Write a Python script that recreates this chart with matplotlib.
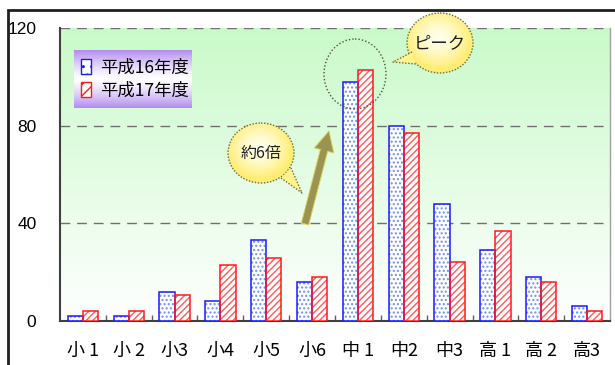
import numpy as np
import matplotlib
matplotlib.use("Agg")
import matplotlib.pyplot as plt
from matplotlib.patches import Ellipse, Polygon, Patch

plt.rcParams['font.family'] = ['Noto Sans CJK JP', 'DejaVu Sans']
plt.rcParams['hatch.linewidth'] = 1.0

grades = ['小 1', '小 2', '小3', '小4', '小5', '小6',
          '中 1', '中2', '中3', '高 1', '高 2', '高3']
h16 = [2, 2, 12, 8, 33, 16, 98, 80, 48, 29, 18, 6]
h17 = [4, 4, 10.5, 23, 26, 18, 103, 77, 24, 37, 16, 4]
series_names = ['平成16年度', '平成17年度']
yticks = [0, 40, 80, 120]

W, H = 615, 365
fig = plt.figure(figsize=(W / 100, H / 100), dpi=100)
ax = fig.add_axes([60 / W, 1 - 321 / H, 550 / W, 293 / H])

# background gradient (white at bottom -> pale green at top)
grad = np.linspace(0, 1, 256).reshape(-1, 1)
c_bot = np.array([1.0, 1.0, 1.0])
c_top = np.array([0.79, 0.98, 0.79])
img = c_bot + (c_top - c_bot) * grad[..., None]
ax.imshow(img, extent=[0, 1, 0, 1], transform=ax.transAxes, origin='lower',
          aspect='auto', zorder=0)

x = np.arange(len(grades))
w = 0.33
# blue dotted bars
ax.bar(x - w / 2, h16, w, color='white', edgecolor='#6f8cff', hatch='....',
       linewidth=0, zorder=3)
ax.bar(x - w / 2, h16, w, fill=False, edgecolor='#1a1aff', linewidth=1.1, zorder=4)
# red hatched bars
ax.bar(x + w / 2, h17, w, color='white', edgecolor='#ff5a5a', hatch='/////',
       linewidth=0, zorder=3)
ax.bar(x + w / 2, h17, w, fill=False, edgecolor='#ff1a1a', linewidth=1.1, zorder=4)

ax.set_xlim(-0.5, len(grades) - 0.5)
ax.set_ylim(0, 120)
ax.set_yticks(yticks)
ax.set_yticklabels([str(v) for v in yticks], fontsize=12.5,
                   family=['Liberation Sans', 'DejaVu Sans'])
ax.set_xticks(x)
ax.set_xticklabels(grades, fontsize=13)
ax.set_xticks(np.arange(len(grades) - 1) + 0.5, minor=True)
ax.tick_params(axis='y', length=0, pad=17)
ax.tick_params(axis='x', which='major', length=0, pad=15)
ax.tick_params(axis='x', which='minor', direction='in', length=4,
               color='#606060', width=1)

for yv in yticks[1:]:
    ax.axhline(yv, color='#707070', lw=1, ls=(0, (7, 5)), zorder=1)

ax.spines['top'].set_visible(False)
ax.spines['right'].set_color('#a0a0a0')
ax.spines['right'].set_linewidth(1)
for s in ['left', 'bottom']:
    ax.spines[s].set_color('#404040')
    ax.spines[s].set_linewidth(1.5)

# legend with purple gradient panel
lx0, lx1 = (74 - 60) / 550, (192 - 60) / 550
ly0, ly1 = (321 - 108) / 293, (321 - 50) / 293
t = np.abs(np.linspace(-1, 1, 256)).reshape(-1, 1) ** 1.3
p_edge = np.array([0.70, 0.55, 0.94])
limg = np.array([1.0, 1.0, 1.0]) + (p_edge - 1.0) * t[..., None]
ax.imshow(limg, extent=[lx0, lx1, ly0, ly1], transform=ax.transAxes,
          aspect='auto', zorder=5)
handles = [Patch(facecolor='white', edgecolor='#1a1aff', hatch='..', lw=1),
           Patch(facecolor='white', edgecolor='#ff1a1a', hatch='///', lw=1)]
leg = ax.legend(handles, series_names, loc='center',
                bbox_to_anchor=((lx0 + lx1) / 2 + 0.003, (ly0 + ly1) / 2),
                frameon=False, fontsize=12.5, handlelength=0.6, handleheight=1.0,
                handletextpad=0.5, labelspacing=0.3, borderpad=0)
leg.set_zorder(6)
ax.set_xlim(-0.5, len(grades) - 0.5)
ax.set_ylim(0, 120)

# overlay in pixel coordinates for callouts
ov = fig.add_axes([0, 0, 1, 1], zorder=10)
ov.set_xlim(0, W)
ov.set_ylim(H, 0)
ov.axis('off')
ov.patch.set_alpha(0)

# outer frame
ov.plot([8, 8, W + 2], [H + 2, 10, 10], color='#202020', lw=2, solid_joinstyle='miter')

rr, cc = np.mgrid[-1:1:200j, -1:1:200j]
rad = np.clip(np.sqrt((rr + 0.15) ** 2 + (cc + 0.05) ** 2), 0, 1)
y_in = np.array([1.0, 1.0, 0.93])
y_out = np.array([1.0, 0.93, 0.45])
bub_img = y_in + (y_out - y_in) * (rad ** 1.5)[..., None]


def bubble(cx, cy, rx, ry, tail, text, fs):
    ell = Ellipse((cx, cy), 2 * rx, 2 * ry, facecolor='none', edgecolor='#6a6a40',
                  lw=1, ls=(0, (1, 1.2)), zorder=3)
    ov.add_patch(ell)
    im = ov.imshow(bub_img, extent=[cx - rx, cx + rx, cy + ry, cy - ry],
                   aspect='auto', zorder=2)
    im.set_clip_path(ell)
    tx, ty = tail[0]
    b1, b2 = tail[1], tail[2]
    ov.add_patch(Polygon([b1, (tx, ty), b2], closed=True, facecolor='#fff38a',
                         edgecolor='none', zorder=4))
    ov.plot([b1[0], tx, b2[0]], [b1[1], ty, b2[1]], color='#6a6a40', lw=1,
            ls=(0, (1, 1.2)), zorder=5)
    ov.text(cx, cy, text, ha='center', va='center', fontsize=fs, zorder=6,
            color='#202020')


# peak circle around 中1
ov.add_patch(Ellipse((355, 74), 62, 70, facecolor='none', edgecolor='#505040',
                     lw=1, ls=(0, (1, 1.5)), zorder=3))

bubble(440, 43, 33, 30, [(393, 62), (412, 52), (416, 64)], 'ピーク', 12.5)
bubble(261, 153, 33, 30, [(302, 193), (281, 178), (291, 168)], '約6倍', 11.5)

# arrow
ov.annotate('', xy=(329, 131), xytext=(305, 224),
            arrowprops=dict(arrowstyle='simple,head_width=1.2,head_length=1.2,tail_width=0.45',
                            facecolor='#9a9450', edgecolor='#d8d060', lw=0.8,
                            ls=(0, (1, 1)), mutation_scale=12, shrinkA=0, shrinkB=0),
            zorder=7)

fig.savefig('out.png', dpi=100)
